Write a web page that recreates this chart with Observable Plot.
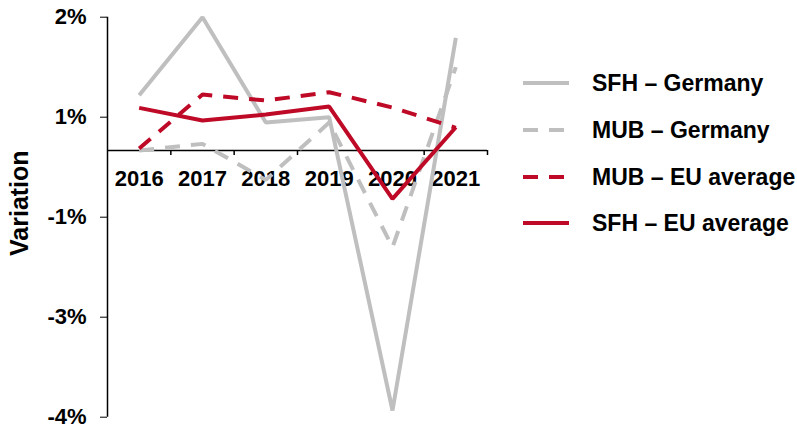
<!DOCTYPE html>
<html>
<head>
<meta charset="utf-8">
<script src="https://cdn.jsdelivr.net/npm/d3@7"></script>
<script src="https://cdn.jsdelivr.net/npm/@observablehq/plot@0.6"></script>
<style>
  html, body { margin: 0; padding: 0; background: #fff; }
  #wrap { position: relative; width: 797px; height: 428px; font-family: "Liberation Sans", Arial, sans-serif; }
  #legend { position: absolute; left: 523px; top: 60px; }
  .row { position: absolute; left: 0; height: 30px; display: flex; align-items: center; white-space: nowrap; }
  .row svg { width: 46px; height: 10px; }
  .row span { position: absolute; left: 69px; font-size: 23px; font-weight: bold; color: #000; }
</style>
</head>
<body>
<div id="wrap"></div>
<script>
const years = [2016, 2017, 2018, 2019, 2020, 2021];
const sfhGermany = [0.83, 2.0, 0.42, 0.5, -3.9, 1.69];
const mubGermany = [0.0, 0.1, -0.44, 0.42, -1.45, 1.25];
const mubEU = [0.03, 0.84, 0.75, 0.875, 0.645, 0.34];
const sfhEU = [0.64, 0.45, 0.54, 0.66, -0.725, 0.35];

const yTicks = [2, 0.5, -1, -2.5, -4];
const yTickLabels = ["2%", "1%", "-1%", "-3%", "-4%"];
const seriesNames = ["SFH – Germany", "MUB – Germany", "MUB – EU average", "SFH – EU average"];

const GRAY = "#BFBFBF";
const RED = "#BE0A26";
const series = [
  {name: seriesNames[0], values: sfhGermany, color: GRAY, dash: null},
  {name: seriesNames[1], values: mubGermany, color: GRAY, dash: "15,11"},
  {name: seriesNames[2], values: mubEU, color: RED, dash: "15,11"},
  {name: seriesNames[3], values: sfhEU, color: RED, dash: null}
];

const bounds = [years[0] - 0.5, ...years.map(y => y + 0.5)];
const labelMap = new Map(yTicks.map((t, i) => [t, yTickLabels[i]]));

const lineMarks = series.map(s => Plot.line(years.map((y, i) => ({year: y, v: s.values[i]})), {
  x: "year", y: "v", stroke: s.color, strokeWidth: 4, strokeDasharray: s.dash,
  strokeLinejoin: "miter", strokeLinecap: "butt", curve: "linear"
}));

const chart = Plot.plot({
  width: 797,
  height: 428,
  marginLeft: 107,
  marginRight: 310,
  marginTop: 16.7,
  marginBottom: 11.3,
  style: {fontFamily: "'Liberation Sans', Arial, sans-serif", background: "#fff", color: "#000"},
  x: {type: "linear", domain: [years[0] - 0.5, years[years.length - 1] + 0.5], axis: null},
  y: {domain: [-4, 2], axis: null},
  marks: [
    Plot.axisY({ticks: yTicks, tickFormat: d => labelMap.get(d), tickSize: 7, tickPadding: 14,
      fontSize: 22, fontWeight: "bold", label: null, anchor: "left"}),
    Plot.ruleX([bounds[0]], {stroke: "#000", strokeWidth: 1.5}),
    Plot.ruleY([0], {stroke: "#000", strokeWidth: 1.5}),
    Plot.ruleX(bounds.slice(1), {x: d => d, y1: 0, y2: 0, insetBottom: -5, stroke: "#000", strokeWidth: 1.5}),
    Plot.text(years, {x: d => d, y: 0, text: d => String(d), dy: 28, fontSize: 22, fontWeight: "bold", fill: "#000"}),
    Plot.text(["Variation"], {frameAnchor: "left", textAnchor: "middle", text: d => d, dx: -88, dy: -14, rotate: -90, fontSize: 25, fontWeight: "bold", fill: "#000"}),
    ...lineMarks
  ]
});

const wrap = document.getElementById("wrap");
wrap.appendChild(chart);

const legend = document.createElement("div");
legend.id = "legend";
const rowCenters = [83, 130, 177, 223];
series.forEach((s, i) => {
  const row = document.createElement("div");
  row.className = "row";
  row.style.top = (rowCenters[i] - 60 - 15) + "px";
  row.innerHTML = `<svg viewBox="0 0 46 10"><line x1="0" y1="5" x2="46" y2="5" stroke="${s.color}" stroke-width="4" ${s.dash ? `stroke-dasharray="${s.dash}"` : ""}/></svg><span>${s.name}</span>`;
  legend.appendChild(row);
});
wrap.appendChild(legend);
</script>
</body>
</html>
